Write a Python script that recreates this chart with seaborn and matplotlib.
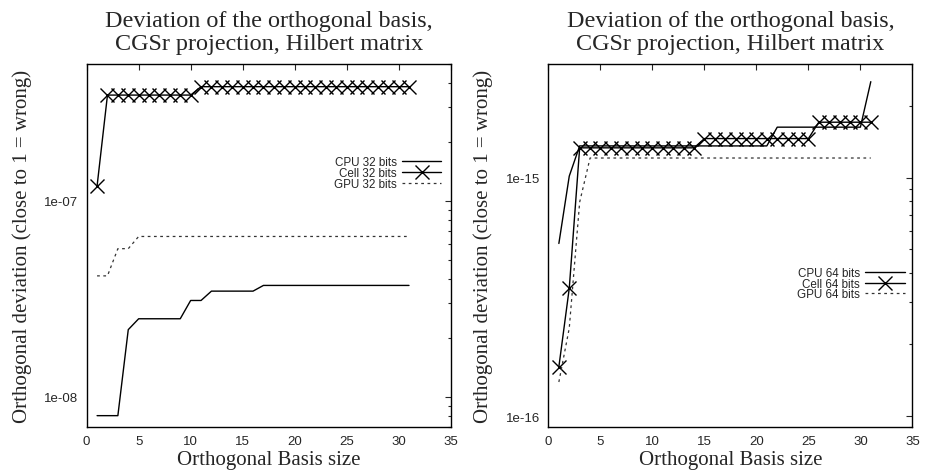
import numpy as np
import pandas as pd
import matplotlib
matplotlib.use("Agg")
import matplotlib.pyplot as plt
import seaborn as sns
from matplotlib.ticker import FuncFormatter, LogLocator, MultipleLocator, NullFormatter

# ---- data (basis size 1..31) ----
basis = list(range(1, 32))

cpu32 = [8.0e-9] * 3 + [2.2e-8] + [2.5e-8] * 5 + [3.1e-8] * 2 + [3.46e-8] * 5 + [3.7e-8] * 15
cell32 = [1.19e-7] + [3.47e-7] * 9 + [3.83e-7] * 21
gpu32 = [4.14e-8] * 2 + [5.7e-8] * 2 + [6.58e-8] * 27

cpu64 = [5.3e-16, 1.016e-15] + [1.36e-15] * 19 + [1.63e-15] * 9 + [2.53e-15]
cell64 = [1.61e-16, 3.44e-16] + [1.335e-15] * 12 + [1.46e-15] * 11 + [1.71e-15] * 6
gpu64 = [1.39e-16, 2.34e-16, 7.9e-16] + [1.21e-15] * 28

TITLE = "Deviation of the orthogonal basis,\nCGSr projection, Hilbert matrix"
XLABEL = "Orthogonal Basis size"
YLABEL = "Orthogonal deviation (close to 1 = wrong)"

sns.set_style("white")
SERIF = ["Liberation Serif", "DejaVu Serif"]
SANS = ["Liberation Sans", "DejaVu Sans"]
plt.rcParams["font.family"] = SANS

fig = plt.figure(figsize=(9.26, 4.77), dpi=100)
ax1 = fig.add_axes([0.0936, 0.1027, 0.393, 0.761])
ax2 = fig.add_axes([0.5923, 0.1027, 0.393, 0.761])


def draw(ax, bits, cpu, cell, gpu, ylim, legend_anchor):
    df = pd.DataFrame({"x": basis, "cpu": cpu, "cell": cell, "gpu": gpu})
    sns.lineplot(data=df, x="x", y="cpu", ax=ax, color="black",
                 label=f"CPU {bits} bits")
    sns.lineplot(data=df, x="x", y="cell", ax=ax, color="black",
                 label=f"Cell {bits} bits")
    sns.lineplot(data=df, x="x", y="gpu", ax=ax, color="black",
                 label=f"GPU {bits} bits")
    cpu_line, cell_line, gpu_line = ax.lines[:3]
    cpu_line.set(linestyle="-", linewidth=1.0)
    cell_line.set(linestyle="-", linewidth=1.0, marker="x", markersize=9.5,
                  markeredgewidth=1.0, markeredgecolor="black")
    gpu_line.set(linewidth=0.9, color="#333333", dashes=(2.2, 2.8))

    ax.set_yscale("log")
    ax.set_xlim(0, 35)
    ax.set_ylim(*ylim)
    ax.xaxis.set_major_locator(MultipleLocator(5))
    ax.yaxis.set_major_locator(LogLocator(base=10))
    ax.yaxis.set_minor_locator(LogLocator(base=10, subs=np.arange(2, 10)))
    ax.yaxis.set_major_formatter(FuncFormatter(lambda v, p: f"{v:.0e}"))
    ax.yaxis.set_minor_formatter(NullFormatter())
    ax.xaxis.offsetText.set_visible(False)
    ax.yaxis.offsetText.set_visible(False)
    ax.tick_params(which="both", direction="in", top=True, right=True,
                   labelsize=9.5, width=0.8, pad=6)
    ax.tick_params(which="major", length=4)
    ax.tick_params(which="minor", length=2.5)
    for s in ax.spines.values():
        s.set_linewidth(1.0)
        s.set_color("black")
    ax.set_title(TITLE, family=SERIF, fontsize=17.4, linespacing=1.1, pad=11)
    ax.set_xlabel(XLABEL, family=SERIF, fontsize=15, labelpad=2)
    ax.set_ylabel(YLABEL, family=SERIF, fontsize=15, labelpad=9)
    leg = ax.legend(handles=[cpu_line, cell_line, gpu_line],
                    loc="center right", bbox_to_anchor=legend_anchor,
                    frameon=False, markerfirst=False, fontsize=8.4,
                    handlelength=3.4, handletextpad=0.45, labelspacing=-0.1,
                    borderpad=0, borderaxespad=0)
    return leg


draw(ax1, 32, cpu32, cell32, gpu32, (7e-9, 5e-7), (0.975, 0.70))
draw(ax2, 64, cpu64, cell64, gpu64, (9e-17, 3e-15), (0.98, 0.395))

fig.savefig("out.png", dpi=100)
